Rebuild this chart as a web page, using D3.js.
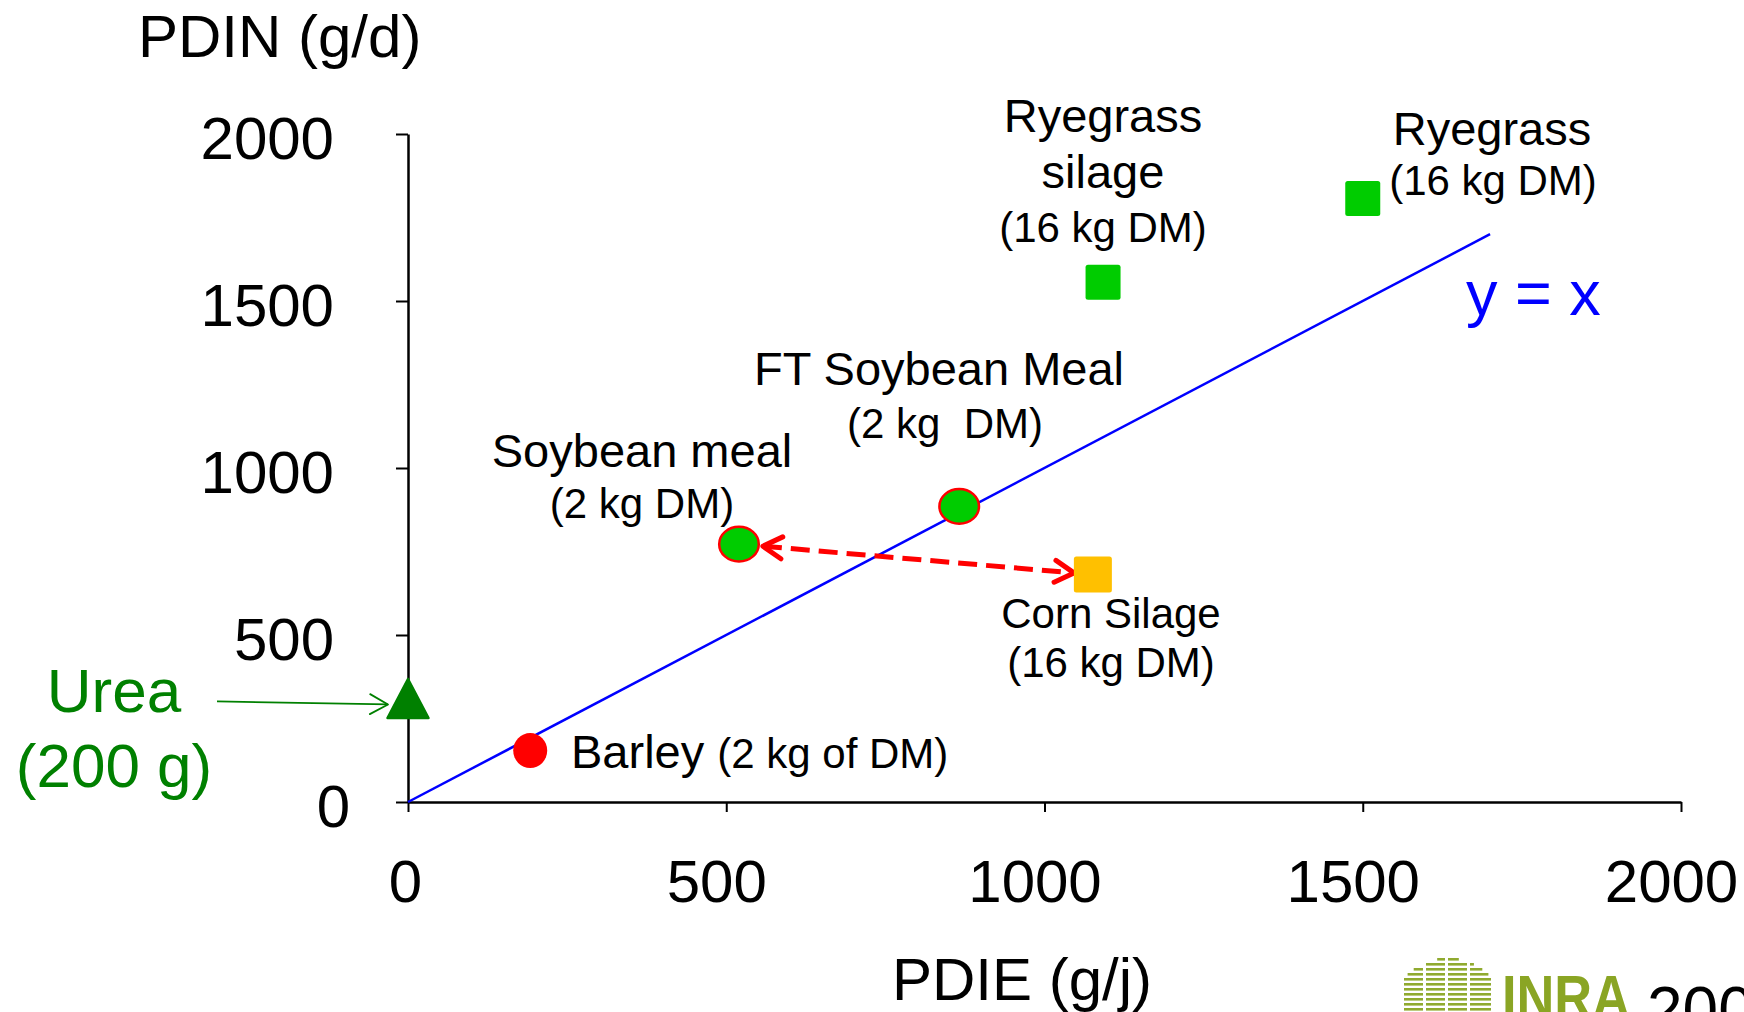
<!DOCTYPE html>
<html><head><meta charset="utf-8">
<script src="https://cdn.jsdelivr.net/npm/d3@7"></script>
<style>
html,body{margin:0;padding:0;background:#fff;overflow:hidden}
svg{display:block;font-family:"Liberation Sans",Arial,sans-serif}
text{white-space:pre}
</style></head><body>
<svg id="chart" width="1744" height="1012"></svg>
<script>
// ---------- data ----------
const feedNames = ["Barley", "Soybean meal", "FT Soybean Meal", "Corn Silage", "Ryegrass silage", "Ryegrass"];
const feedNotes = ["(2 kg of DM)", "(2 kg DM)", "(2 kg  DM)", "(16 kg DM)", "(16 kg DM)", "(16 kg DM)"];
const feedPDIE = [192, 520, 866, 1076, 1092, 1500];
const feedPDIN = [154, 772, 885, 681, 1556, 1807];
const ureaLines = ["Urea", "(200 g)"];
const ureaPDIE = [0];
const ureaPDIN = [310];
const identityRange = [0, 1700];
const xTickValues = [0, 500, 1000, 1500, 2000];
const yTickValues = [0, 500, 1000, 1500, 2000];
const xTitle = "PDIE (g/j)";
const yTitle = "PDIN (g/d)";
const identityLabel = "y = x";
const arrowFrom = 1, arrowTo = 3; // Soybean meal <-> Corn Silage
const logoText = "INRA", yearText = "200";

// ---------- styles ----------
const GREEN = "#00cc00", RED = "#ff0000", ORANGE = "#ffc000", DKGREEN = "#008000", BLUE = "#0000ff";
const markerStyle = [
  {shape: "circle", fill: RED, stroke: "none", rx: 17, ry: 17.5},
  {shape: "circle", fill: GREEN, stroke: RED, rx: 19.8, ry: 17.3},
  {shape: "circle", fill: GREEN, stroke: RED, rx: 19.8, ry: 17.3},
  {shape: "square", fill: ORANGE, w: 38, h: 36},
  {shape: "square", fill: GREEN, w: 35, h: 35},
  {shape: "square", fill: GREEN, w: 35, h: 35}
];

const svg = d3.select("#chart");
const x = d3.scaleLinear().domain([0, 2000]).range([408, 1681]);
const y = d3.scaleLinear().domain([0, 2000]).range([802, 134]);

const defs = svg.append("defs");
function headMarker(id, color, len, half, sw) {
  defs.append("marker").attr("id", id)
    .attr("viewBox", "-30 -20 40 40").attr("markerWidth", 40).attr("markerHeight", 40)
    .attr("refX", 0).attr("refY", 0).attr("markerUnits", "userSpaceOnUse")
    .attr("orient", "auto-start-reverse").style("overflow", "visible")
    .append("path").attr("d", `M${-len},${-half}L0,0L${-len},${half}`)
    .attr("fill", "none").attr("stroke", color).attr("stroke-width", sw)
    .attr("stroke-linecap", "round").attr("stroke-linejoin", "round")
    .attr("stroke-dasharray", "none");
}
headMarker("redHead", RED, 19, 11, 5);
headMarker("greenHead", DKGREEN, 18, 10, 1.8);

// ---------- axes ----------
const xAxis = svg.append("g").attr("transform", `translate(0,${y(0)})`)
  .call(d3.axisBottom(x).tickValues(xTickValues).tickSize(10).tickSizeOuter(0).tickPadding(47).tickFormat(d3.format("d")));
const yAxis = svg.append("g").attr("transform", `translate(${x(0)},0)`)
  .call(d3.axisLeft(y).tickValues(yTickValues).tickSize(12).tickSizeOuter(0).tickPadding(62).tickFormat(d3.format("d")));
[xAxis, yAxis].forEach(g => {
  g.attr("font-family", null).attr("font-size", null);
  g.select(".domain").attr("stroke", "#000").attr("stroke-width", 2.5);
  g.selectAll(".tick line").attr("stroke", "#000").attr("stroke-width", 2);
  g.selectAll(".tick text").attr("fill", "#000").style("font-size", "60px");
});
xAxis.selectAll(".tick text").attr("dx", d => d === 0 ? -3 : -10);
yAxis.selectAll(".tick text").attr("dy", "0.41em").attr("dx", d => d === 0 ? 16 : 0);

svg.append("text").attr("x", 138).attr("y", 57).style("font-size", "60px").attr("fill", "#000").text(yTitle);
svg.append("text").attr("x", 1022).attr("y", 1000).attr("text-anchor", "middle").style("font-size", "60px").attr("fill", "#000").text(xTitle);

// ---------- identity line ----------
svg.append("path")
  .attr("d", d3.line().x(d => x(d)).y(d => y(d))(identityRange))
  .attr("stroke", BLUE).attr("stroke-width", 2.5).attr("fill", "none");
svg.append("text").attr("x", 1466).attr("y", 315).style("font-size", "63px").attr("fill", BLUE).text(identityLabel);

// ---------- dashed double arrow ----------
{
  const p1 = [x(feedPDIE[arrowFrom]), y(feedPDIN[arrowFrom])];
  const p2 = [x(feedPDIE[arrowTo]), y(feedPDIN[arrowTo])];
  const dx = p2[0] - p1[0], dy = p2[1] - p1[1], L = Math.hypot(dx, dy);
  const ux = dx / L, uy = dy / L;
  const s = [p1[0] + ux * 24, p1[1] + uy * 24], e = [p2[0] - ux * 19, p2[1] - uy * 19];
  svg.append("path").attr("d", `M${s[0]},${s[1]}L${e[0]},${e[1]}`)
    .attr("stroke", RED).attr("stroke-width", 5).attr("fill", "none")
    .attr("stroke-dasharray", "19,9")
    .attr("marker-start", "url(#redHead)").attr("marker-end", "url(#redHead)");
}

// ---------- markers ----------
const pts = svg.append("g");
feedPDIE.forEach((v, i) => {
  const st = markerStyle[i], cx = x(v), cy = y(feedPDIN[i]);
  if (st.shape === "circle") {
    pts.append("ellipse").attr("cx", cx).attr("cy", cy).attr("rx", st.rx).attr("ry", st.ry)
      .attr("fill", st.fill).attr("stroke", st.stroke).attr("stroke-width", st.stroke === "none" ? 0 : 2.5);
  } else {
    pts.append("rect").attr("x", cx - st.w / 2).attr("y", cy - st.h / 2).attr("width", st.w).attr("height", st.h)
      .attr("rx", 2.5).attr("fill", st.fill);
  }
});

// Urea triangle
ureaPDIE.forEach((v, i) => {
  const cx = x(v), cy = y(ureaPDIN[i]);
  svg.append("path").attr("d", `M${cx},${cy - 19.5}L${cx + 20.5},${cy + 19.5}L${cx - 20.5},${cy + 19.5}Z`)
    .attr("fill", DKGREEN).attr("stroke", DKGREEN).attr("stroke-width", 2.5).attr("stroke-linejoin", "round");
  // urea arrow
  const tipX = cx - 20, tipY = cy + 6;
  svg.append("path").attr("d", `M${cx - 191},${tipY - 3}L${tipX},${tipY}`)
    .attr("stroke", DKGREEN).attr("stroke-width", 1.8).attr("fill", "none").attr("marker-end", "url(#greenHead)");
});
ureaLines.forEach((t, k) => {
  svg.append("text").attr("x", 114).attr("y", 712 + k * 75).attr("text-anchor", "middle")
    .style("font-size", "62px").attr("fill", DKGREEN).text(t);
});

// ---------- labels ----------
const big = "47px", small = "42px";
function lbl(xp, yp, txt, size, anchor) {
  return svg.append("text").attr("x", xp).attr("y", yp).attr("text-anchor", anchor || "middle")
    .style("font-size", size).attr("fill", "#000").text(txt);
}
// Barley
{
  const t = svg.append("text").attr("x", 571).attr("y", 768).attr("fill", "#000");
  t.append("tspan").style("font-size", big).text(feedNames[0] + " ");
  t.append("tspan").style("font-size", small).text(feedNotes[0]);
}
// Soybean meal
lbl(642, 467, feedNames[1], big); lbl(642, 518, feedNotes[1], small);
// FT Soybean Meal
lbl(939, 385, feedNames[2], big); lbl(945, 438, feedNotes[2], small);
// Corn Silage
lbl(1111, 628, feedNames[3], small); lbl(1111, 677, feedNotes[3], small);
// Ryegrass silage
{
  const parts = feedNames[4].split(" ");
  lbl(1103, 132, parts[0], big); lbl(1103, 188, parts[1], big); lbl(1103, 242, feedNotes[4], small);
}
// Ryegrass
lbl(1492, 145, feedNames[5], big); lbl(1493, 195, feedNotes[5], small);

// ---------- INRA logo (decoration) ----------
{
  const lg = svg.append("g");
  const LOGO = "#8aa524";
  const cx0 = 1448, cy0 = 1016, R = 59;
  const cols = [[1404, 1423], [1426, 1445], [1448, 1467], [1470, 1491]];
  for (let yy = 958; yy < 1012; yy += 5) {
    const hw = Math.sqrt(Math.max(0, R * R - (cy0 - yy) * (cy0 - yy)));
    cols.forEach((c, j) => {
      const a = Math.max(c[0], cx0 - hw), b = Math.min(c[1], cx0 + hw);
      if (b - a > 3) {
        lg.append("rect").attr("x", a).attr("y", yy).attr("width", b - a).attr("height", 2.6)
          .attr("fill", LOGO).attr("opacity", ((yy / 5 + j) % 2) ? 0.95 : 0.7);
      }
    });
  }
  svg.append("text").attr("x", 1502).attr("y", 1018).attr("textLength", 128).attr("lengthAdjust", "spacingAndGlyphs")
    .style("font-size", "62px").style("font-weight", "bold").attr("fill", LOGO).text(logoText);
  svg.append("text").attr("x", 1647).attr("y", 1032).style("font-size", "64px").attr("fill", "#000").text(yearText);
}
</script>
</body></html>
